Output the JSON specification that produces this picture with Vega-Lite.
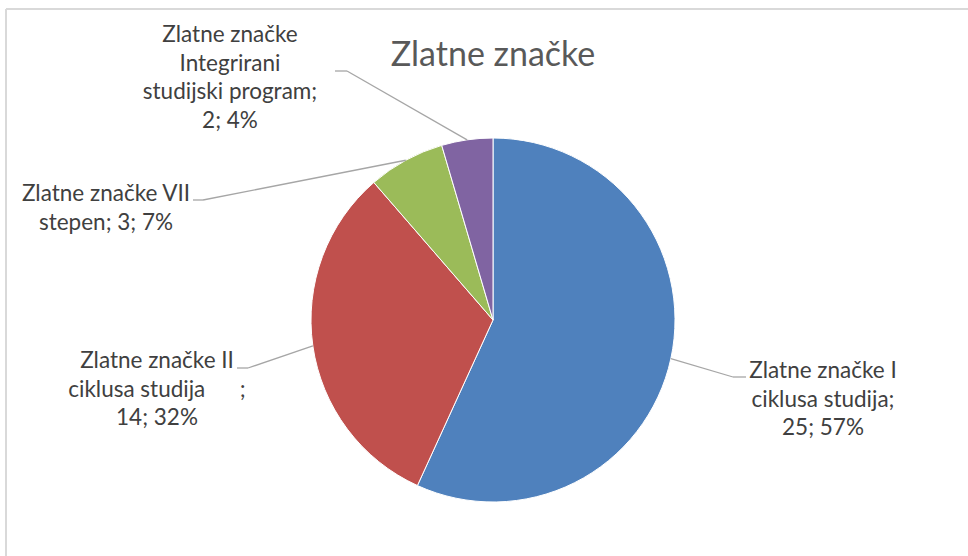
{
  "$schema": "https://vega.github.io/schema/vega-lite/v6.json",
  "width": 962,
  "height": 547,
  "autosize": "none",
  "padding": {"left": 6, "top": 9, "right": 0, "bottom": 0},
  "background": "white",
  "config": {"view": {"stroke": null}},
  "title": {"text": "Zlatne značke", "font": "Lato", "fontSize": 34, "fontWeight": "normal", "color": "#595959", "anchor": "middle", "baseline": "alphabetic", "offset": -92, "dx": 6},
  "data": {"values": [
    {"kategorija": "Zlatne značke I ciklusa studija", "broj": 25, "redosled": 1, "oznaka": "Zlatne značke I\nciklusa studija;\n25; 57%"},
    {"kategorija": "Zlatne značke II ciklusa studija", "broj": 14, "redosled": 2, "oznaka": "Zlatne značke II\nciklusa studija\u00a0\u00a0\u00a0\u00a0\u00a0\u00a0;\n14; 32%"},
    {"kategorija": "Zlatne značke VII stepen", "broj": 3, "redosled": 3, "oznaka": "Zlatne značke VII\nstepen; 3; 7%"},
    {"kategorija": "Zlatne značke Integrirani studijski program", "broj": 2, "redosled": 4, "oznaka": "Zlatne značke\nIntegrirani\nstudijski program;\n2; 4%"}
  ]},
  "transform": [
    {"joinaggregate": [{"op": "sum", "field": "broj", "as": "ukupno"}]},
    {"stack": "broj", "groupby": [], "sort": [{"field": "redosled", "order": "ascending"}], "as": ["s0", "s1"]},
    {"calculate": "PI * (datum.s0 + datum.s1) / datum.ukupno", "as": "ugao"},
    {"calculate": "182 * sin(datum.ugao)", "as": "ivicaX"},
    {"calculate": "-182 * cos(datum.ugao)", "as": "ivicaY"},
    {"calculate": "[240, -245, -290, -146][datum.redosled - 1]", "as": "lomX"},
    {"calculate": "[57, 48, -120, -249][datum.redosled - 1]", "as": "lomY"},
    {"calculate": "[253, -256, -300, -158][datum.redosled - 1]", "as": "krajX"},
    {"calculate": "[330, -336, -387, -263][datum.redosled - 1]", "as": "oznX"},
    {"calculate": "[58, 48, -119, -278][datum.redosled - 1]", "as": "oznY"}
  ],
  "layer": [
    {
      "mark": {"type": "rule", "stroke": "#D9D9D9", "strokeWidth": 1.5},
      "encoding": {
        "x": {"datum": -487, "type": "quantitative", "scale": {"domain": [-487, 475], "nice": false, "zero": false}, "axis": null}
      }
    },
    {
      "mark": {"type": "rule", "stroke": "#D9D9D9", "strokeWidth": 1.5},
      "encoding": {
        "y": {"datum": -311, "type": "quantitative", "scale": {"domain": [-311, 236], "reverse": true, "nice": false, "zero": false}, "axis": null}
      }
    },
    {
      "mark": {"type": "arc", "outerRadius": 182, "stroke": "white", "strokeWidth": 1},
      "encoding": {
        "x": {"datum": 0, "type": "quantitative", "scale": {"domain": [-487, 475], "nice": false, "zero": false}, "axis": null},
        "y": {"datum": 0, "type": "quantitative", "scale": {"domain": [-311, 236], "reverse": true, "nice": false, "zero": false}, "axis": null},
        "theta": {"field": "broj", "type": "quantitative", "stack": true},
        "order": {"field": "redosled", "type": "quantitative", "sort": "ascending"},
        "color": {"field": "kategorija", "type": "nominal", "legend": null,
          "scale": {"domain": ["Zlatne značke I ciklusa studija", "Zlatne značke II ciklusa studija", "Zlatne značke VII stepen", "Zlatne značke Integrirani studijski program"],
                    "range": ["#4F81BD", "#C0504D", "#9BBB59", "#8064A2"]}}
      }
    },
    {
      "mark": {"type": "rule", "stroke": "#A6A6A6", "strokeWidth": 1.3},
      "encoding": {
        "x": {"field": "ivicaX", "type": "quantitative", "scale": {"domain": [-487, 475], "nice": false, "zero": false}, "axis": null},
        "y": {"field": "ivicaY", "type": "quantitative", "scale": {"domain": [-311, 236], "reverse": true, "nice": false, "zero": false}, "axis": null},
        "x2": {"field": "lomX"},
        "y2": {"field": "lomY"}
      }
    },
    {
      "mark": {"type": "rule", "stroke": "#A6A6A6", "strokeWidth": 1.3},
      "encoding": {
        "x": {"field": "lomX", "type": "quantitative", "scale": {"domain": [-487, 475], "nice": false, "zero": false}, "axis": null},
        "y": {"field": "lomY", "type": "quantitative", "scale": {"domain": [-311, 236], "reverse": true, "nice": false, "zero": false}, "axis": null},
        "x2": {"field": "krajX"},
        "y2": {"field": "lomY"}
      }
    },
    {
      "mark": {"type": "text", "font": "Lato", "fontSize": 22.5, "color": "#404040", "align": "center", "baseline": "alphabetic", "lineBreak": "\n", "lineHeight": 28.5},
      "encoding": {
        "x": {"field": "oznX", "type": "quantitative", "scale": {"domain": [-487, 475], "nice": false, "zero": false}, "axis": null},
        "y": {"field": "oznY", "type": "quantitative", "scale": {"domain": [-311, 236], "reverse": true, "nice": false, "zero": false}, "axis": null},
        "text": {"field": "oznaka"}
      }
    }
  ]
}
